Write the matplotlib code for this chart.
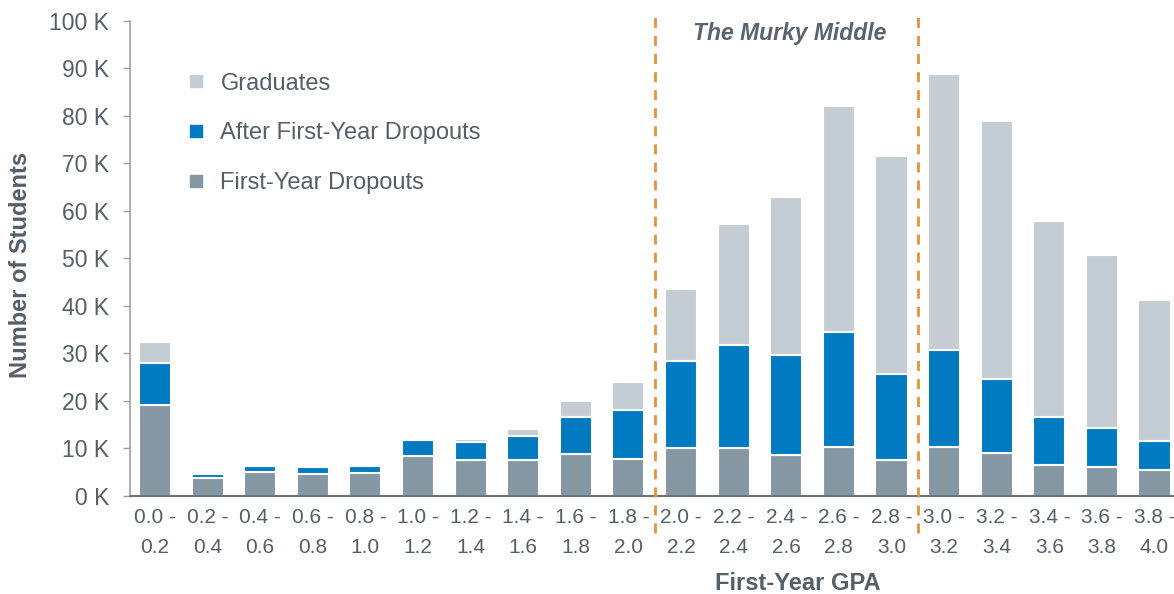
import matplotlib
matplotlib.use('Agg')
import matplotlib.pyplot as plt
from matplotlib.lines import Line2D
import numpy as np

plt.rcParams['font.family'] = ['Liberation Sans', 'DejaVu Sans']

gpa_bins = ['0.0 -\n0.2', '0.2 -\n0.4', '0.4 -\n0.6', '0.6 -\n0.8', '0.8 -\n1.0',
            '1.0 -\n1.2', '1.2 -\n1.4', '1.4 -\n1.6', '1.6 -\n1.8', '1.8 -\n2.0',
            '2.0 -\n2.2', '2.2 -\n2.4', '2.4 -\n2.6', '2.6 -\n2.8', '2.8 -\n3.0',
            '3.0 -\n3.2', '3.2 -\n3.4', '3.4 -\n3.6', '3.6 -\n3.8', '3.8 -\n4.0']

# values in thousands of students
first_year = [19.2, 3.8, 5.0, 4.7, 4.9, 8.5, 7.6, 7.6, 8.8, 7.7,
              10.0, 10.0, 8.6, 10.4, 7.5, 10.4, 9.0, 6.5, 6.1, 5.4]
after_first = [8.8, 0.8, 1.3, 1.3, 1.5, 3.3, 3.7, 5.0, 7.9, 10.3,
               18.4, 21.7, 21.0, 24.2, 18.1, 20.3, 15.6, 10.1, 8.3, 6.1]
graduates = [4.5, 0.0, 0.0, 0.0, 0.0, 0.0, 0.8, 1.4, 3.2, 6.1,
             15.1, 25.6, 33.3, 47.6, 46.0, 58.1, 54.3, 41.2, 36.4, 29.8]

c_first = '#8497a3'
c_after = '#007bc2'
c_grad = '#c5cdd4'
txt = '#555f69'

fig = plt.figure(figsize=(11.74, 5.94), dpi=100)
ax = fig.add_axes([0.1107, 0.165, 0.8893, 0.7997])

x = np.arange(len(gpa_bins))
fy = np.array(first_year)
af = np.array(after_first)
gr = np.array(graduates)
w = 0.61
ax.bar(x, fy, w, color=c_first, edgecolor='white', linewidth=1.5)
ax.bar(x, af, w, bottom=fy, color=c_after, edgecolor='white', linewidth=1.5)
ax.bar(x, gr, w, bottom=fy + af, color=c_grad, edgecolor='white', linewidth=1.5)

for xv in [9.5, 14.5]:
    ax.plot([xv, xv], [-7.8, 102.3], color='#e8913a', lw=2, dashes=(3.6, 2.9),
            clip_on=False, zorder=5)

ax.text(12.07, 97.3, 'The Murky Middle', ha='center', va='center', fontsize=16.5,
        fontweight='bold', fontstyle='italic', color='#5a6470')

ax.set_xlim(-0.475, 19.37)
ax.set_ylim(0, 100)
ax.set_yticks(np.arange(0, 101, 10))
ax.set_yticklabels([f'{v} K' for v in range(0, 101, 10)])
ax.set_xticks(x)
ax.set_xticklabels(gpa_bins, linespacing=1.7)
ax.tick_params(axis='x', length=0, pad=9, labelsize=15, labelcolor=txt)
ax.tick_params(axis='y', length=5, width=1, color='#a0a0a0', pad=10,
               labelsize=16.5, labelcolor=txt)

for s in ['top', 'right']:
    ax.spines[s].set_visible(False)
ax.spines['left'].set_color('#a0a0a0')
ax.spines['left'].set_linewidth(1.2)
ax.spines['bottom'].set_color('#6b737b')
ax.spines['bottom'].set_linewidth(1.5)

fig.text(21 / 1174, 1 - 265 / 594, 'Number of Students', rotation=90,
         ha='center', va='center', fontsize=17, fontweight='bold', color=txt)
fig.text(798 / 1174, 1 - 584 / 594, 'First-Year GPA', ha='center', va='center',
         fontsize=17, fontweight='bold', color=txt)

handles = [Line2D([], [], ls='none', marker='s', markersize=8, color=c)
           for c in [c_grad, c_after, c_first]]
ax.legend(handles, ['Graduates', 'After First-Year Dropouts', 'First-Year Dropouts'],
          loc='upper left', bbox_to_anchor=(0.0365, 0.936), frameon=False,
          fontsize=17, labelcolor=txt, handlelength=0.6, handletextpad=0.72,
          labelspacing=1.17)

fig.savefig('out.png', dpi=100)
